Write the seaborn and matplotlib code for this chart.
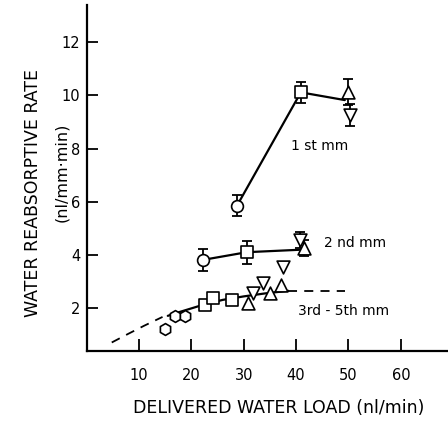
import matplotlib
matplotlib.use("Agg")
import matplotlib.pyplot as plt
import seaborn as sns
import pandas as pd

# 1st mm
first_x = [28.7, 40.9, 49.9, 50.3]
first_y = [5.85, 10.11, 10.13, 9.26]
first_err = [0.4, 0.4, 0.5, 0.42]
first_mk = ['o', 's', '^', 'v']
first_line_x = [28.7, 40.9, 49.3]
first_line_y = [5.85, 10.11, 9.82]

# 2nd mm
second_x = [22.2, 30.6, 40.7, 41.6]
second_y = [3.82, 4.11, 4.57, 4.26]
second_err = [0.4, 0.43, 0.3, 0.3]
second_mk = ['o', 's', 'v', '^']
second_line_x = [22.2, 30.6, 40.6]
second_line_y = [3.82, 4.11, 4.2]

# 3rd - 5th mm
third_x = [15.0, 16.9, 18.8, 22.6, 24.2, 27.7, 31.8, 30.9, 33.7, 35.0, 37.2, 37.5]
third_y = [1.23, 1.70, 1.70, 2.14, 2.39, 2.32, 2.58, 2.20, 2.97, 2.58, 2.89, 3.57]
third_mk = ['h', 'h', 'h', 's', 's', 's', 'v', '^', 'v', '^', '^', 'v']
fit_x = [15.5, 18, 22, 26, 30, 34, 38.5]
fit_y = [1.72, 1.88, 2.12, 2.32, 2.45, 2.56, 2.66]
dash_lo_x = [4.8, 8, 11, 14.5]
dash_lo_y = [0.72, 1.05, 1.35, 1.68]
dash_hi_x = [38.5, 49.3]
dash_hi_y = [2.67, 2.67]

x_ticks = [10, 20, 30, 40, 50, 60]
y_ticks = [2, 4, 6, 8, 10, 12]

sns.set_style("ticks", {'axes.edgecolor': 'black', 'text.color': 'black',
                        'xtick.color': 'black', 'ytick.color': 'black',
                        'axes.labelcolor': 'black'})
plt.rcParams['font.family'] = ['DejaVu Sans']

fig = plt.figure(figsize=(4.48, 4.23), dpi=100)
ax = fig.add_axes([0.1933, 0.1702, 0.8067, 0.818])

# curves
for lx, ly in [(first_line_x, first_line_y), (second_line_x, second_line_y), (fit_x, fit_y)]:
    sns.lineplot(x=lx, y=ly, ax=ax, color='black', linewidth=1.6, sort=False, zorder=2)
for lx, ly in [(dash_lo_x, dash_lo_y), (dash_hi_x, dash_hi_y)]:
    sns.lineplot(x=lx, y=ly, ax=ax, color='black', linewidth=1.3, sort=False,
                 linestyle=(0, (5, 4)), zorder=2)

# error bars
for xs, ys, es in [(first_x, first_y, first_err), (second_x, second_y, second_err)]:
    ax.errorbar(xs, ys, yerr=es, fmt='none', ecolor='black', elinewidth=1.3,
                capsize=3.6, capthick=1.3, zorder=3)

# markers
for xs, ys, mks in [(first_x, first_y, first_mk), (second_x, second_y, second_mk),
                    (third_x, third_y, third_mk)]:
    df = pd.DataFrame({'x': xs, 'y': ys, 'm': mks})
    for m, g in df.groupby('m'):
        size = 85 if m in ('^', 'v') else 72
        sns.scatterplot(data=g, x='x', y='y', marker=m, s=size, ax=ax,
                        facecolor='white', edgecolor='black', linewidth=1.2,
                        zorder=4, legend=False)

ax.text(44.5, 8.1, '1 st mm', ha='center', va='center', fontsize=10)
ax.text(51.2, 4.46, '2 nd mm', ha='center', va='center', fontsize=10)
ax.text(49.1, 1.91, '3rd - 5th mm', ha='center', va='center', fontsize=10)

ax.set_xlim(0, 69)
ax.set_ylim(0.4, 13.39)
ax.set_xticks(x_ticks)
ax.set_yticks(y_ticks)
ax.set_xlabel('')
ax.set_ylabel('')
ax.tick_params(axis='x', direction='in', length=8.5, width=1.3, pad=12, labelsize=10.5)
ax.tick_params(axis='y', direction='in', length=8, width=1.3, pad=4.5, labelsize=10.5)
for s in ['top', 'right']:
    ax.spines[s].set_visible(False)
for s in ['left', 'bottom']:
    ax.spines[s].set_linewidth(1.6)

fig.text(0.623, 0.035, 'DELIVERED WATER LOAD (nl/min)', ha='center', va='center', fontsize=12.5)
fig.text(0.074, 0.544, 'WATER REABSORPTIVE RATE', ha='center', va='center',
         rotation=90, fontsize=12.5)
fig.text(0.138, 0.593, '(nl/mm\u00b7min)', ha='center', va='center',
         rotation=90, fontsize=11.5)

fig.savefig('out.png', dpi=100)
